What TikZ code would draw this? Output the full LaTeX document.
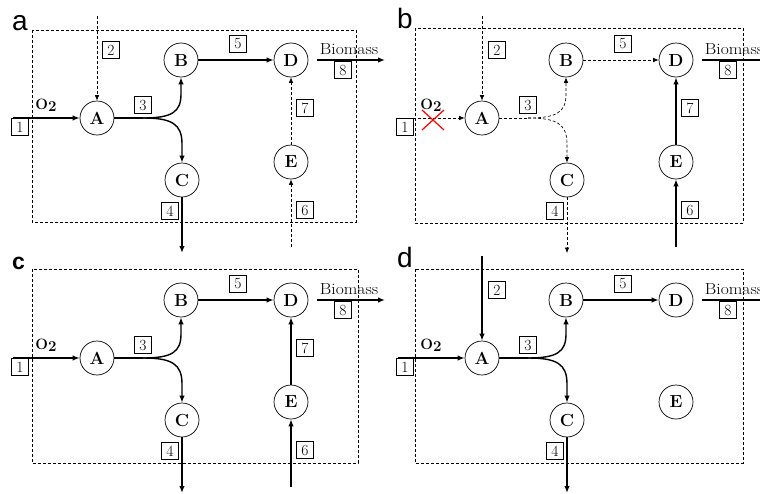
\documentclass[tikz,border=0pt]{standalone}
\usepackage{fontspec}
\usepackage{graphicx}
\usetikzlibrary{arrows.meta}
\newfontfamily\panelfont{Liberation Sans}
\tikzset{
  met/.style={circle, draw, line width=0.7pt, minimum size=34pt, inner sep=0pt,
    font=\fontsize{17.5}{17.5}\selectfont\bfseries},
  tag/.style={rectangle, draw, line width=0.7pt, minimum width=17pt, minimum height=16.5pt, inner sep=0pt,
    font=\fontsize{15.5}{15.5}\selectfont},
  flux/.style={line width=1.4pt, -{Latex[length=7pt,width=5.5pt]}},
  weak/.style={line width=0.65pt, dash pattern=on 3pt off 2pt, -{Latex[length=5.5pt,width=4.5pt]}},
  fluxline/.style={line width=1.4pt},
  frame/.style={line width=0.65pt, dash pattern=on 3pt off 2pt},
  plab/.style={anchor=base west, inner sep=0pt, font=\fontsize{28}{28}\selectfont\panelfont},
  otwo/.style={inner sep=0pt, font=\fontsize{15}{15}\selectfont\bfseries},
  biom/.style={inner sep=0pt, font=\fontsize{16}{16}\selectfont},
}
% metabolite nodes of one panel, named with the given prefix
\newcommand\metnodes[1]{%
  \node[met] (#1A) at (97,118) {A};
  \node[met] (#1B) at (181,60) {B};
  \node[met] (#1C) at (182,180) {C};
  \node[met] (#1D) at (291,60) {D};
  \node[met] (#1E) at (291,162) {E};
  \coordinate (#1in1) at (13,118);
  \coordinate (#1in2) at (97,16);
  \coordinate (#1out4) at (182,253);
  \coordinate (#1in6) at (291,247);
  \coordinate (#1out8) at (385,60);
  \coordinate (#1fork) at (143,118);
  \coordinate (#1upB) at (181,94);
  \coordinate (#1dnC) at (182,144);
  \node[otwo] (#1o2) at (46,105) {O\raisebox{-2pt}{2}};
  \node[biom] (#1bio) at (349,49) {\scalebox{1.1}[1]{Biomass}};
  \node[tag] (#1t1) at (20,127) {1};
  \node[tag] (#1t3) at (143,105) {3};
  \node[tag] (#1t4) at (170,211) {4};
  \node[tag] (#1t5) at (238,44) {5};
  \node[tag] (#1t8) at (343,70) {8};
}
\begin{document}
\begin{tikzpicture}[x=1pt,y=-1pt]
\useasboundingbox (0,0) rectangle (760,493);
\clip (0,0) rectangle (760,493);

% ---------- panel a ----------
\begin{scope}
  \draw[frame] (32,30) rectangle (356,222);
  \node[plab] (la) at (12,30) {a};
  \metnodes{a}
  \node[tag] (at2) at (111,50) {2};
  \node[tag] (at6) at (305,210) {6};
  \node[tag] (at7) at (305,108) {7};
  \draw[flux] (ain1) -- (aA);
  \draw[weak] (ain2) -- (aA);
  \draw[fluxline] (aA.east) -- (afork);
  \draw[flux] (afork) .. controls (172,118) and (181,112) .. (aupB) -- (aB);
  \draw[flux] (afork) .. controls (172,118) and (182,124) .. (adnC) -- (aC);
  \draw[flux] (aC) -- (aout4);
  \draw[flux] (aB) -- (aD);
  \draw[weak] (ain6) -- (aE);
  \draw[weak] (aE) -- (aD);
  \draw[flux] (aD.east) ++(9,0) coordinate (aD8) (aD8) -- (aout8);
\end{scope}

% ---------- panel b ----------
\begin{scope}[shift={(385,0)}]
  \draw[frame] (30,28) rectangle (358,223);
  \node[plab] (lb) at (12,28) {b};
  \metnodes{b}
  \node[tag] (bt2) at (112,50) {2};
  \node[tag] (bt6) at (305,210) {6};
  \node[tag] (bt7) at (305,108) {7};
  \draw[weak] (bin1) -- (bA);
  \draw[weak] (bin2) -- (bA);
  \draw[line width=0.65pt, dash pattern=on 3pt off 2pt] (bA.east) -- (bfork);
  \draw[weak] (bfork) .. controls (172,118) and (181,112) .. (bupB) -- (bB);
  \draw[weak] (bfork) .. controls (172,118) and (182,124) .. (bdnC) -- (bC);
  \draw[weak] (bC) -- (bout4);
  \draw[weak] (bB) -- (bD);
  \draw[flux] (bin6) -- (bE);
  \draw[flux] (bE) -- (bD);
  \draw[flux] (bD.east) ++(9,0) coordinate (bD8) (bD8) -- (bout8);
  % blocked oxygen uptake
  \coordinate (bx) at (48,120);
  \draw[red, line width=1.2pt] (bx) ++(-11,-10) -- ++(22,20);
  \draw[red, line width=1.2pt] (bx) ++(11,-10) -- ++(-22,20);
\end{scope}

% ---------- panel c ----------
\begin{scope}[shift={(0,240)}]
  \draw[frame] (32,29) rectangle (358,223);
  \node[plab, font=\fontsize{23}{23}\selectfont\panelfont\bfseries] (lc) at (12,29) {c};
  \metnodes{c}
  \node[tag] (ct6) at (305,210) {6};
  \node[tag] (ct7) at (305,108) {7};
  \draw[flux] (cin1) -- (cA);
  \draw[fluxline] (cA.east) -- (cfork);
  \draw[flux] (cfork) .. controls (172,118) and (181,112) .. (cupB) -- (cB);
  \draw[flux] (cfork) .. controls (172,118) and (182,124) .. (cdnC) -- (cC);
  \draw[flux] (cC) -- (cout4);
  \draw[flux] (cB) -- (cD);
  \draw[flux] (cin6) -- (cE);
  \draw[flux] (cE) -- (cD);
  \draw[flux] (cD.east) ++(9,0) coordinate (cD8) (cD8) -- (cout8);
\end{scope}

% ---------- panel d ----------
\begin{scope}[shift={(385,240)}]
  \draw[frame] (30,29) rectangle (358,223);
  \node[plab] (ld) at (12,27) {d};
  \metnodes{d}
  \node[tag] (dt2) at (112,50) {2};
  \draw[flux] (din1) -- (dA);
  \draw[flux] (din2) -- (dA);
  \draw[fluxline] (dA.east) -- (dfork);
  \draw[flux] (dfork) .. controls (172,118) and (181,112) .. (dupB) -- (dB);
  \draw[flux] (dfork) .. controls (172,118) and (182,124) .. (ddnC) -- (dC);
  \draw[flux] (dC) -- (dout4);
  \draw[flux] (dB) -- (dD);
  \draw[flux] (dD.east) ++(9,0) coordinate (dD8) (dD8) -- (dout8);
\end{scope}
\end{tikzpicture}
\end{document}
